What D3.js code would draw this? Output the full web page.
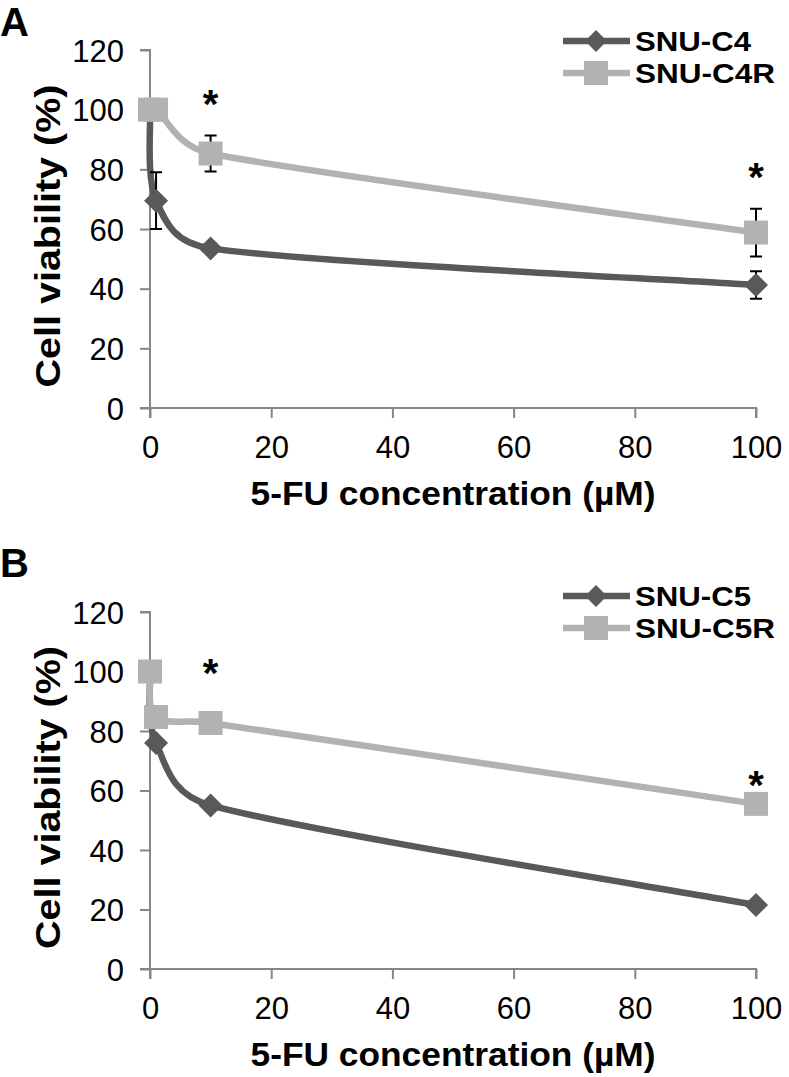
<!DOCTYPE html>
<html>
<head>
<meta charset="utf-8">
<script src="https://cdn.jsdelivr.net/npm/d3@7"></script>
<style>
  html, body { margin: 0; padding: 0; background: #fff; }
  svg { display: block; }
  text { font-family: "Liberation Sans", Arial, Helvetica, sans-serif; }
</style>
</head>
<body>
<svg id="chart" width="789" height="1077"></svg>
<script>
// ---------- data ----------
const concentrations = [0, 1, 10, 100];
const xTicks = [0, 20, 40, 60, 80, 100];
const yTicks = [0, 20, 40, 60, 80, 100, 120];
const xTitle = "5-FU concentration (µM)";
const yTitle = "Cell viability (%)";

const namesA = ["SNU-C4", "SNU-C4R"];
const c4 = [100, 69.5, 53.5, 41.2];
const c4Err = [0, 9.5, 1.5, 4.6];
const c4r = [100, 100, 85.3, 58.8];
const c4rErr = [0, 0, 6, 8];
const starXA = [10, 100];
const starYA = [105, 80.5];

const namesB = ["SNU-C5", "SNU-C5R"];
const c5 = [100, 76, 55, 21.5];
const c5Err = [0, 0, 0, 0];
const c5r = [100, 84.7, 82.7, 55.5];
const c5rErr = [0, 0, 0, 0];
const starXB = [10, 100];
const starYB = [102.5, 65];

const panelLabels = ["A", "B"];

// ---------- drawing ----------
const svg = d3.select("#chart");
const DARK = "#595959", LIGHT = "#b2b2b2", AXIS = "#868686";

// Excel-like smoothed line: Catmull-Rom tangents, handles clamped to half the segment length
function smoothPath(P) {
  const p = d3.path();
  const n = P.length;
  const T = P.map((pt, i) => {
    const a = P[Math.max(0, i - 1)], b = P[Math.min(n - 1, i + 1)];
    return [(b[0] - a[0]) / 6, (b[1] - a[1]) / 6];
  });
  const clamp = (v, maxLen) => {
    const L = Math.hypot(v[0], v[1]);
    if (L <= maxLen || L === 0) return v;
    return [v[0] * maxLen / L, v[1] * maxLen / L];
  };
  p.moveTo(P[0][0], P[0][1]);
  for (let i = 0; i < n - 1; i++) {
    const seg = Math.hypot(P[i + 1][0] - P[i][0], P[i + 1][1] - P[i][1]);
    const h1 = clamp(T[i], seg * 0.5), h2 = clamp(T[i + 1], seg * 0.5);
    p.bezierCurveTo(P[i][0] + h1[0], P[i][1] + h1[1],
                    P[i + 1][0] - h2[0], P[i + 1][1] - h2[1],
                    P[i + 1][0], P[i + 1][1]);
  }
  return p.toString();
}

function drawPanel(opt) {
  const g = svg.append("g");
  const x = d3.scaleLinear().domain([0, 100]).range([150, 756]);
  const y = d3.scaleLinear().domain([0, 120]).range([opt.y0, opt.y120]);

  g.append("text").attr("x", 0).attr("y", opt.labelY)
    .attr("font-size", 40).attr("font-weight", "bold").text(opt.label);

  const xAxis = d3.axisBottom(x).tickValues(xTicks).tickSize(10).tickFormat(d3.format("d"));
  const gx = g.append("g").attr("transform", `translate(0,${y(0)})`).call(xAxis);
  gx.select(".domain").attr("stroke", AXIS).attr("stroke-width", 2)
    .attr("d", `M${x(0)},10V0H${x(100)}V10`);
  gx.selectAll(".tick line").attr("stroke", AXIS).attr("stroke-width", 2);
  gx.selectAll(".tick text").attr("font-size", 31).attr("fill", "#000")
    .attr("font-family", "Liberation Sans, Arial, sans-serif").attr("dy", 0).attr("y", 50);

  const yAxis = d3.axisLeft(y).tickValues(yTicks).tickSize(10).tickFormat(d3.format("d"));
  const gy = g.append("g").attr("transform", `translate(${x(0)},0)`).call(yAxis);
  gy.select(".domain").attr("stroke", AXIS).attr("stroke-width", 2)
    .attr("d", `M-10,${y(120)}H0V${y(0)}H-10`);
  gy.selectAll(".tick line").attr("stroke", AXIS).attr("stroke-width", 2);
  gy.selectAll(".tick text").attr("font-size", 31).attr("fill", "#000")
    .attr("font-family", "Liberation Sans, Arial, sans-serif").attr("x", -26).attr("dy", 11);

  g.append("text").attr("x", (x(0) + x(100)) / 2).attr("y", y(0) + 97)
    .attr("text-anchor", "middle").attr("font-size", 33).attr("font-weight", "bold")
    .attr("textLength", 405).attr("lengthAdjust", "spacingAndGlyphs")
    .text(xTitle);
  g.append("text")
    .attr("transform", `translate(60,${(y(0) + y(120)) / 2 + 7}) rotate(-90)`)
    .attr("text-anchor", "middle").attr("font-size", 35).attr("font-weight", "bold")
    .attr("textLength", 303).attr("lengthAdjust", "spacingAndGlyphs")
    .text(yTitle);

  const series = [
    { vals: opt.dark, err: opt.darkErr, color: DARK, shape: "diamond" },
    { vals: opt.light, err: opt.lightErr, color: LIGHT, shape: "square" }
  ];

  series.forEach(s => {
    const pts = concentrations.map((c, i) => [c, s.vals[i], s.err[i]]);
    const px = pts.map(d => [x(d[0]), y(d[1])]);
    g.append("path").attr("d", smoothPath(px)).attr("fill", "none")
      .attr("stroke", s.color).attr("stroke-width", 6.5);
    const eb = g.append("g");
    pts.filter(p => p[2] > 0).forEach(p => {
      const cx = x(p[0]), t = y(p[1] + p[2]), b = y(p[1] - p[2]);
      eb.append("path").attr("d", `M${cx},${t}V${b}M${cx - 6},${t}H${cx + 6}M${cx - 6},${b}H${cx + 6}`)
        .attr("stroke", "#000").attr("stroke-width", 2).attr("fill", "none");
    });
    g.selectAll(null).data(pts).enter().append("path")
      .attr("transform", p => `translate(${x(p[0])},${y(p[1])})`)
      .attr("d", s.shape === "diamond" ? "M0,-12L12,0L0,12L-12,0Z" : "M-12,-12H12V12H-12Z")
      .attr("fill", s.color);
  });

  g.selectAll(null).data(opt.starX).enter().append("text")
    .attr("x", d => x(d)).attr("y", (d, i) => y(opt.starY[i]) + 23)
    .attr("text-anchor", "middle").attr("font-size", 40).attr("font-weight", "bold")
    .text("*");

  const lg = g.append("g");
  [[opt.names[0], DARK, "diamond"], [opt.names[1], LIGHT, "square"]].forEach((d, i) => {
    const ly = opt.legendY + i * 32;
    lg.append("line").attr("x1", 563).attr("x2", 630).attr("y1", ly).attr("y2", ly)
      .attr("stroke", d[1]).attr("stroke-width", 6.5);
    lg.append("path").attr("transform", `translate(596,${ly})`)
      .attr("d", d[2] === "diamond" ? "M0,-11L11,0L0,11L-11,0Z" : "M-12,-12H12V12H-12Z")
      .attr("fill", d[1]);
    lg.append("text").attr("x", 635).attr("y", ly + 10)
      .attr("font-size", 28).attr("font-weight", "bold")
      .attr("textLength", i === 0 ? 116 : 140).attr("lengthAdjust", "spacingAndGlyphs")
      .text(d[0]);
  });
}

drawPanel({
  label: panelLabels[0], labelY: 36, y0: 408, y120: 50,
  dark: c4, darkErr: c4Err, light: c4r, lightErr: c4rErr,
  starX: starXA, starY: starYA, names: namesA, legendY: 41
});
drawPanel({
  label: panelLabels[1], labelY: 577, y0: 969, y120: 612,
  dark: c5, darkErr: c5Err, light: c5r, lightErr: c5rErr,
  starX: starXB, starY: starYB, names: namesB, legendY: 596
});
</script>
</body>
</html>
